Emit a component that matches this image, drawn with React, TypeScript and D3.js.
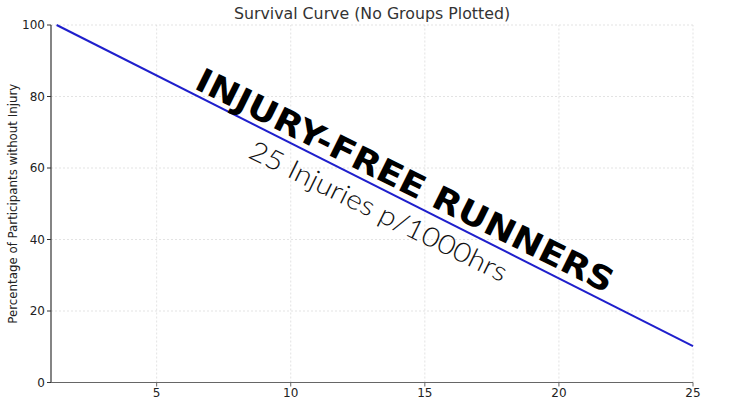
import React from "react";
import * as d3 from "d3";

const times = [1.27, 25];
const survival = [100, 10.2];
const xTicks = [5, 10, 15, 20, 25];
const yTicks = [0, 20, 40, 60, 80, 100];
const titleText = "Survival Curve (No Groups Plotted)";
const yLabel = "Percentage of Participants without Injury";
const bigLabel = "INJURY-FREE RUNNERS";
const subLabel = "25 Injuries p/1000hrs";

const W = 750;
const H = 400;
const M = { left: 51, right: 57, top: 25, bottom: 17.5 };

export default function App() {
  const x = d3.scaleLinear().domain([1.06, 25]).range([M.left, W - M.right]);
  const y = d3.scaleLinear().domain([0, 100]).range([H - M.bottom, M.top]);
  const pts = times.map((t, i) => [t, survival[i]] as [number, number]);
  const line = d3
    .line<[number, number]>()
    .x((d) => x(d[0]))
    .y((d) => y(d[1]));
  const x0 = M.left;
  const x1 = W - M.right;
  const y0 = H - M.bottom;
  const y1 = M.top;
  const font = "'DejaVu Sans', sans-serif";
  return (
    <svg
      width={W}
      height={H}
      style={{ position: "absolute", left: 0, top: 0, background: "#fff" }}
    >
      {xTicks.map((t) => (
        <line
          key={"gx" + t}
          x1={x(t)}
          x2={x(t)}
          y1={y0}
          y2={y1}
          stroke="#dcdcdc"
          strokeWidth={0.8}
          strokeDasharray="2,2"
        />
      ))}
      {yTicks
        .filter((t) => t > 0)
        .map((t) => (
          <line
            key={"gy" + t}
            x1={x0}
            x2={x1}
            y1={y(t)}
            y2={y(t)}
            stroke="#dcdcdc"
            strokeWidth={0.8}
            strokeDasharray="2,2"
          />
        ))}
      <path d={line(pts) || ""} fill="none" stroke="#1f1fcc" strokeWidth={2} />
      <line x1={x0} x2={x0} y1={y0} y2={y1} stroke="#333" strokeWidth={1.2} />
      <line x1={x0} x2={x1} y1={y0} y2={y0} stroke="#666" strokeWidth={1.2} />
      {yTicks.map((t) => (
        <g key={"ty" + t}>
          <line x1={x0 - 4} x2={x0} y1={y(t)} y2={y(t)} stroke="#333" strokeWidth={1} />
          <text
            x={x0 - 6}
            y={y(t)}
            dy="0.35em"
            textAnchor="end"
            fontFamily={font}
            fontSize={12}
            fill="#222"
          >
            {t}
          </text>
        </g>
      ))}
      {xTicks.map((t) => (
        <g key={"tx" + t}>
          <line x1={x(t)} x2={x(t)} y1={y0} y2={y0 + 4} stroke="#666" strokeWidth={1} />
          <text
            x={x(t)}
            y={y0 + 14.5}
            textAnchor="middle"
            fontFamily={font}
            fontSize={12}
            fill="#222"
          >
            {t}
          </text>
        </g>
      ))}
      <text
        x={(x0 + x1) / 2}
        y={19}
        textAnchor="middle"
        fontFamily={font}
        fontSize={15.8}
        fill="#333"
      >
        {titleText}
      </text>
      <text
        transform={`translate(16.5,${(y0 + y1) / 2}) rotate(-90)`}
        textAnchor="middle"
        fontFamily={font}
        fontSize={11.8}
        fill="#222"
      >
        {yLabel}
      </text>
      <text
        transform="translate(193,88) rotate(26.4)"
        fontFamily="'DejaVu Sans', sans-serif"
        fontWeight="bold"
        fontSize={33}
        fill="#000"
        textLength={462}
        lengthAdjust="spacingAndGlyphs"
      >
        {bigLabel}
      </text>
      <text
        transform="translate(247,157) rotate(26.2)"
        fontFamily="Lato, 'Open Sans', sans-serif"
        fontWeight={300}
        fontSize={27}
        fill="#111"
        textLength={284}
        lengthAdjust="spacingAndGlyphs"
      >
        {subLabel}
      </text>
    </svg>
  );
}
